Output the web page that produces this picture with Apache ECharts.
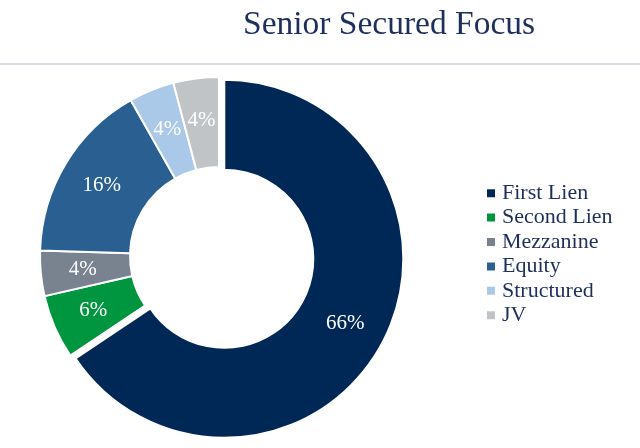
<!DOCTYPE html>
<html>
<head>
<meta charset="utf-8">
<script src="https://cdn.jsdelivr.net/npm/echarts@6/dist/echarts.min.js"></script>
<style>html,body{margin:0;padding:0;background:#fff;}#c{width:640px;height:448px;}</style>
</head>
<body>
<div id="c"></div>
<script>
var categories = ['First Lien', 'Second Lien', 'Mezzanine', 'Equity', 'Structured', 'JV'];
var values = [65.6, 5.8, 4.1, 16.3, 4.1, 4.1];
var colors = ['#002856', '#00963f', '#78838f', '#2a6091', '#aac8e7', '#c1c4c7'];
var titleText = 'Senior Secured Focus';

var SERIF = '"Liberation Serif", "DejaVu Serif", serif';
var chart = echarts.init(document.getElementById('c'), null, {renderer: 'canvas'});
var data = categories.map(function (c, i) {
  return {name: c, value: values[i], selected: i === 0, itemStyle: {color: colors[i]}};
});
chart.setOption({
  animation: false,
  title: {
    text: titleText,
    left: 243, top: 8, padding: 0,
    textStyle: {fontFamily: SERIF, fontSize: 33.5, fontWeight: 'normal', color: '#1f2f5c'}
  },
  graphic: [{
    type: 'line', shape: {x1: 0, y1: 64, x2: 640, y2: 64},
    style: {stroke: '#c9d1db', lineWidth: 1.5}, silent: true
  }],
  legend: {
    orient: 'vertical', left: 485, top: 181, padding: 0,
    itemWidth: 10, itemHeight: 10, itemGap: 0, icon: 'rect',
    selectedMode: false,
    textStyle: {fontFamily: SERIF, fontSize: 22, color: '#1f2f5c', lineHeight: 24.4, padding: [0, 0, 0, 1]},
    data: categories
  },
  series: [{
    type: 'pie',
    center: [219, 256],
    radius: [89, 179],
    startAngle: 90,
    clockwise: true,
    selectedMode: 'single',
    selectedOffset: 6,
    avoidLabelOverlap: false,
    emphasis: {disabled: true},
    itemStyle: {borderColor: '#ffffff', borderWidth: 2},
    label: {
      show: true, position: 'inside',
      fontFamily: SERIF, fontSize: 21, color: '#ffffff',
      formatter: function (p) { return Math.round(p.percent) + '%'; }
    },
    labelLine: {show: false},
    data: data
  }]
});
</script>
</body>
</html>
